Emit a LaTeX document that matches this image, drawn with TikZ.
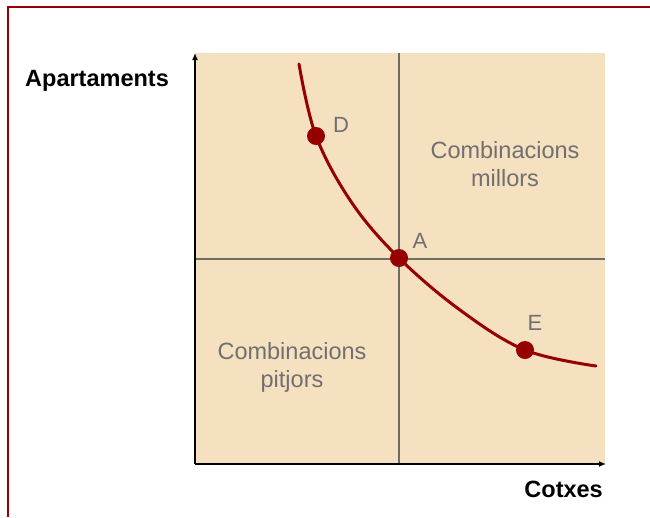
\documentclass[tikz,border=0pt]{standalone}
\usepackage{fontspec}
\setmainfont{Liberation Sans}
\usetikzlibrary{arrows.meta}
\definecolor{beige}{RGB}{245,224,192}
\definecolor{dred}{RGB}{150,0,0}
\definecolor{gtext}{RGB}{112,112,112}
\definecolor{gline}{RGB}{110,110,100}
\begin{document}
\begin{tikzpicture}[x=1pt,y=-1pt,
  axislabel/.style={font=\fontsize{23.5}{26}\selectfont\bfseries, inner sep=0pt},
  regionlabel/.style={font=\fontsize{23.5}{28}\selectfont, text=gtext, align=center, inner sep=0pt},
  ptlabel/.style={font=\fontsize{22}{24}\selectfont, text=gtext, inner sep=0pt},
  dotnode/.style={circle, fill=dred, minimum size=18pt, inner sep=0pt},
  axisline/.style={line width=1.8pt, -{Latex[length=7pt,width=6pt]}},
  gridline/.style={gline, line width=1.4pt}]
\useasboundingbox (0,0) rectangle (650,517);
% frame
\draw[dred, line width=2pt] (8,517) -- (8,7) -- (650,7);
% background
\fill[beige] (195,53) rectangle (605,464);
% coordinates
\coordinate (o) at (195,464);
\coordinate (ytop) at (195,53);
\coordinate (xend) at (606,464);
\coordinate (vt) at (399,53);
\coordinate (vb) at (399,464);
\coordinate (hl) at (195,259);
\coordinate (hr) at (605,259);
% grid lines
\draw[gridline] (vt) -- (vb);
\draw[gridline] (hl) -- (hr);
% axes
\draw[axisline] (o) -- (ytop);
\draw[axisline] (o) -- (xend);
% curve
\draw[dred, line width=3pt, line cap=round] plot[smooth, tension=0.6] coordinates
  {(299,64) (316,136) (352,203) (399,258) (460,310) (525,350) (596,366)};
% points
\node[dotnode] (D) at (316,136) {};
\node[dotnode] (A) at (399,258) {};
\node[dotnode] (E) at (525,350) {};
\node[ptlabel] (Dl) at (341,125) {D};
\node[ptlabel] (Al) at (420,241) {A};
\node[ptlabel] (El) at (535,323) {E};
% labels
\node[axislabel, anchor=base west] (ylab) at (25,86) {Apartaments};
\node[axislabel, anchor=base east] (xlab) at (603,497) {Cotxes};
\node[regionlabel] (better) at (505,164) {Combinacions\\millors};
\node[regionlabel] (worse) at (292,367) {Combinacions\\pitjors};
\end{tikzpicture}
\end{document}
